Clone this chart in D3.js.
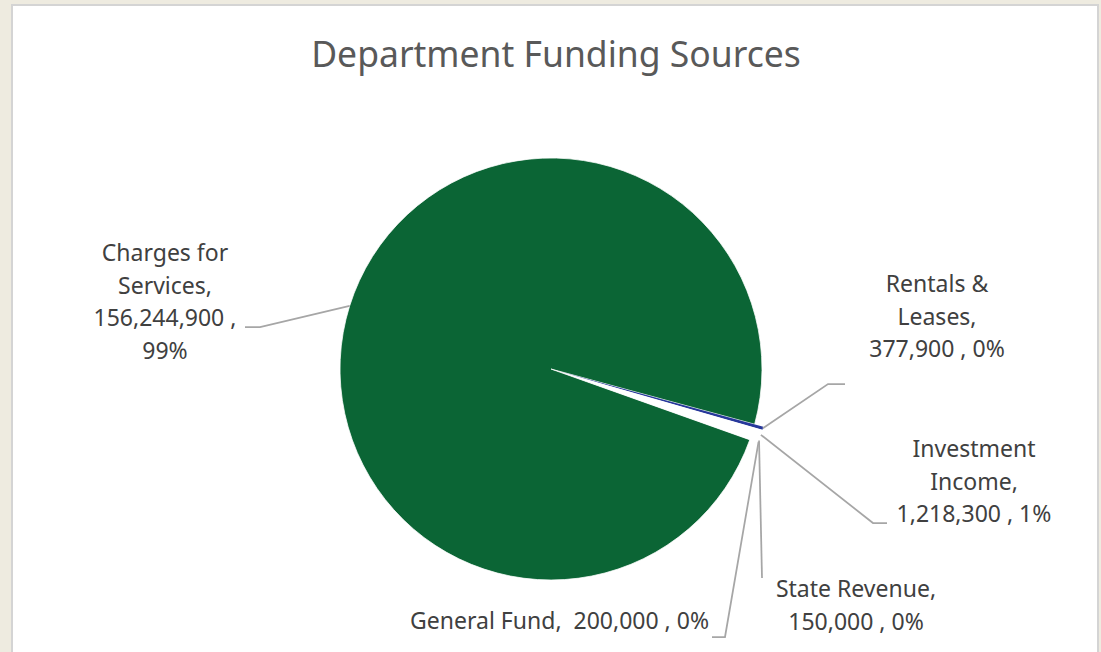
<!DOCTYPE html>
<html>
    <head>
        <meta charset="UTF-8">
        <script src="https://d3js.org/d3.v7.min.js"></script>

        <style>
            body {
                margin: 0;
                background: #eeebe0;
                font-family: "Noto Sans", Arial, sans-serif;
            }

            .frame {
                fill: #ffffff;
                stroke: #d4d4d4;
                stroke-width: 2px;
            }

            .title {
                fill: #595959;
                font-size: 35.5px;
            }

            .slice {
                stroke: #ffffff;
                stroke-width: 0.75px;
            }

            .slice.small {
                stroke: none;
            }

            .leader {
                fill: none;
                stroke: #a6a6a6;
                stroke-width: 1.75px;
            }

            .label {
                fill: #404040;
                font-size: 23px;
                white-space: pre;
            }
        </style>
    </head>
    <body>
        <svg></svg>

        <script>
            const categories = ["Charges for Services", "Rentals & Leases", "Investment Income", "State Revenue", "General Fund"];
            const amounts = [156244900, 377900, 1218300, 150000, 200000];
            const sliceColors = ["#0b6535", "#27389b", "#ffffff", "#ffffff", "#ffffff"];

            // where each label sits and where its leader line bends
            const labelLayout = [
                { x: 165, y: 261, anchor: "middle", wrap: "four", explode: 0, bend: [[260, 327], [245, 327]] },
                { x: 937, y: 292, anchor: "middle", wrap: "three", explode: 9, bend: [[828, 384], [845, 384]] },
                { x: 974, y: 457, anchor: "middle", wrap: "three", explode: 9, bend: [[873, 523], [887, 523]] },
                { x: 856, y: 597, anchor: "middle", wrap: "two", explode: 9, bend: [[762, 578]] },
                { x: 709, y: 629, anchor: "end", wrap: "one", explode: 9, bend: [[725, 637], [712, 637]] }
            ];

            function drawChart () {
                const width = 1101, height = 652;
                const cx = 551, cy = 369, radius = 211;
                const firstAngle = 109.6 * Math.PI / 180;

                const svg = d3.select("svg")
                    .attr("width", width)
                    .attr("height", height);

                svg.append("rect")
                    .attr("class", "frame")
                    .attr("x", 12)
                    .attr("y", 5)
                    .attr("width", 1086)
                    .attr("height", 660);

                svg.append("text")
                    .attr("class", "title")
                    .attr("x", 556)
                    .attr("y", 67)
                    .attr("text-anchor", "middle")
                    .text("Department Funding Sources");

                const data = categories.map((c, i) => ({ name: c, value: amounts[i], color: sliceColors[i], layout: labelLayout[i] }));
                const total = d3.sum(amounts);
                const fmt = d3.format(",");

                const pie = d3.pie()
                    .sort(null)
                    .value(d => d.value)
                    .startAngle(firstAngle)
                    .endAngle(firstAngle + 2 * Math.PI);

                const arcs = pie(data);

                const arc = d3.arc()
                    .innerRadius(0)
                    .outerRadius(radius);

                const mid = d => (d.startAngle + d.endAngle) / 2;
                const offset = d => [d.data.layout.explode * Math.sin(mid(d)), -d.data.layout.explode * Math.cos(mid(d))];

                const g = svg.append("g")
                    .attr("transform", `translate(${cx}, ${cy})`);

                g.selectAll("path")
                    .data(arcs)
                    .join("path")
                        .attr("class", d => d.data.layout.explode > 0 ? "slice small" : "slice")
                        .attr("fill", d => d.data.color)
                        .attr("transform", d => `translate(${offset(d)})`)
                        .attr("d", arc);

                // leader lines, from the middle of each slice's outer edge
                svg.append("g")
                    .selectAll("polyline")
                    .data(arcs)
                    .join("polyline")
                        .attr("class", "leader")
                        .attr("points", d => {
                            const r = radius + d.data.layout.explode;
                            const start = [cx + r * Math.sin(mid(d)), cy - r * Math.cos(mid(d))];
                            return [start].concat(d.data.layout.bend).map(p => p.join(",")).join(" ");
                        });

                function labelLines (d) {
                    const pct = Math.round(d.value / total * 100) + "%";
                    const val = fmt(d.value);
                    const words = d.name.split(" ");
                    switch (d.layout.wrap) {
                        case "four":
                            return [words.slice(0, 2).join(" "), words.slice(2).join(" ") + ",", val + " ,", pct];
                        case "three":
                            return [words.slice(0, words.length - 1).join(" "), words[words.length - 1] + ",", val + " , " + pct];
                        case "two":
                            return [d.name + ",", val + " , " + pct];
                        default:
                            return [d.name + ",  " + val + " , " + pct];
                    }
                }

                const labels = svg.append("g")
                    .selectAll("text")
                    .data(data)
                    .join("text")
                        .attr("class", "label")
                        .attr("text-anchor", d => d.layout.anchor)
                        .attr("x", d => d.layout.x)
                        .attr("y", d => d.layout.y);

                labels.selectAll("tspan")
                    .data(d => labelLines(d).map(t => ({ text: t, x: d.layout.x })))
                    .join("tspan")
                        .attr("x", t => t.x)
                        .attr("dy", (t, i) => i === 0 ? 0 : 32.5)
                        .text(t => t.text);
            }

            drawChart();
        </script>
    </body>
</html>
